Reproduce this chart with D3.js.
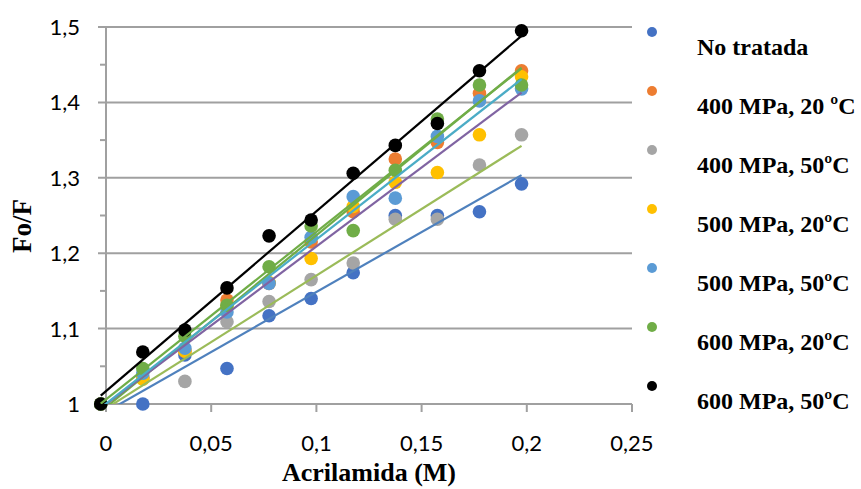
<!DOCTYPE html>
<html>
<head>
<meta charset="utf-8">
<script src="https://cdn.jsdelivr.net/npm/d3@7"></script>
<style>
body { margin: 0; background: #fff; }
svg { display: block; }
.tick-lbl { font-family: Lato, "Open Sans", sans-serif; font-size: 22px; fill: #000; }
.ttl { font-family: "Liberation Serif", "Times New Roman", serif; font-weight: bold; fill: #000; }
</style>
</head>
<body>
<svg id="svg1" width="861" height="489"></svg>
<script>

var width = 861,
    height = 489;

// acrilamida (M)
var conc = [-0.0025, 0.0175, 0.0375, 0.0575, 0.0775, 0.0975, 0.1175, 0.1375, 0.1575, 0.1775, 0.1975];

var series_names = ["No tratada", "400 MPa, 20 ºC", "400 MPa, 50ºC", "500 MPa, 20ºC", "500 MPa, 50ºC", "600 MPa, 20ºC", "600 MPa, 50ºC"];

var no_tratada   = [1.000, 1.000, 1.065, 1.047, 1.117, 1.140, 1.174, 1.250, 1.250, 1.255, 1.292];
var mpa400_20    = [1.000, 1.035, 1.070, 1.138, 1.160, 1.215, 1.255, 1.325, 1.347, 1.412, 1.442];
var mpa400_50    = [1.000, 1.035, 1.030, 1.109, 1.136, 1.165, 1.187, 1.245, 1.245, 1.317, 1.357];
var mpa500_20    = [1.000, 1.033, 1.070, 1.130, 1.161, 1.193, 1.262, 1.294, 1.307, 1.357, 1.434];
var mpa500_50    = [1.000, 1.041, 1.074, 1.122, 1.160, 1.221, 1.275, 1.273, 1.355, 1.402, 1.418];
var mpa600_20    = [1.000, 1.047, 1.090, 1.131, 1.182, 1.236, 1.230, 1.310, 1.378, 1.423, 1.423];
var mpa600_50    = [1.000, 1.069, 1.098, 1.154, 1.223, 1.244, 1.306, 1.343, 1.372, 1.442, 1.495];

var all_series = [no_tratada, mpa400_20, mpa400_50, mpa500_20, mpa500_50, mpa600_20, mpa600_50];

var marker_col = ["#4472C4", "#ED7D31", "#A5A5A5", "#FFC000", "#5B9BD5", "#70AD47", "#000000"];
var trend_col  = ["#4F81BD", "#70AD47", "#9BBB59", "#8064A2", "#4BACC6", "#70AD47", "#000000"];

var x_ticks = [0, 0.05, 0.1, 0.15, 0.2, 0.25];
var x_tick_lbl = ["0", "0,05", "0,1", "0,15", "0,2", "0,25"];
var y_ticks = [1, 1.1, 1.2, 1.3, 1.4, 1.5];
var y_tick_lbl = ["1", "1,1", "1,2", "1,3", "1,4", "1,5"];
var y_minor = [1.05, 1.15, 1.25, 1.35, 1.45];


var qSVG = d3.select("#svg1");

var x = d3.scaleLinear().domain([0, 0.25]).range([106, 632]);
var y = d3.scaleLinear().domain([1, 1.5]).range([404, 27]);

var grid_col = "#A0A0A0";

// gridlines
qSVG.selectAll(".grid")
    .data(y_ticks)
    .enter()
    .append("line")
    .attr("x1", x(0) - 8)
    .attr("x2", x(0.25))
    .attr("y1", function(d) { return y(d); })
    .attr("y2", function(d) { return y(d); })
    .attr("stroke", grid_col)
    .attr("stroke-width", 2);

// minor ticks on y
qSVG.selectAll(".ymin")
    .data(y_minor)
    .enter()
    .append("line")
    .attr("x1", x(0) - 6)
    .attr("x2", x(0))
    .attr("y1", function(d) { return y(d); })
    .attr("y2", function(d) { return y(d); })
    .attr("stroke", grid_col)
    .attr("stroke-width", 2);

// y axis line
qSVG.append("line")
    .attr("x1", x(0)).attr("x2", x(0))
    .attr("y1", y(1.5)).attr("y2", y(1) + 8)
    .attr("stroke", grid_col)
    .attr("stroke-width", 2);

// x ticks
qSVG.selectAll(".xt")
    .data(x_ticks)
    .enter()
    .append("line")
    .attr("x1", function(d) { return x(d); })
    .attr("x2", function(d) { return x(d); })
    .attr("y1", y(1))
    .attr("y2", y(1) + 8)
    .attr("stroke", grid_col)
    .attr("stroke-width", 2);

// tick labels
qSVG.selectAll(".ylbl")
    .data(y_ticks)
    .enter()
    .append("text")
    .attr("class", "tick-lbl")
    .attr("text-anchor", "end")
    .attr("x", 80)
    .attr("y", function(d) { return y(d) + 8; })
    .text(function(d, i) { return y_tick_lbl[i]; });

qSVG.selectAll(".xlbl")
    .data(x_ticks)
    .enter()
    .append("text")
    .attr("class", "tick-lbl")
    .attr("text-anchor", "middle")
    .attr("x", function(d) { return x(d); })
    .attr("y", 451)
    .text(function(d, i) { return x_tick_lbl[i]; });

// axis titles
qSVG.append("text")
    .attr("class", "ttl")
    .attr("font-size", 26)
    .attr("text-anchor", "middle")
    .attr("x", 369)
    .attr("y", 481)
    .text("Acrilamida (M)");

qSVG.append("text")
    .attr("class", "ttl")
    .attr("font-size", 27)
    .attr("text-anchor", "middle")
    .attr("transform", "translate(31,226) rotate(-90)")
    .text("Fo/F");

// markers
all_series.forEach(function(vals, s) {
    qSVG.append("g")
        .selectAll("circle")
        .data(vals)
        .enter()
        .append("circle")
        .attr("cx", function(d, i) { return x(conc[i]); })
        .attr("cy", function(d) { return y(d); })
        .attr("r", 6.8)
        .attr("fill", marker_col[s]);
});

// trendlines (least squares), clipped to plot area
qSVG.append("clipPath").attr("id", "clip")
    .append("rect")
    .attr("x", x(-0.01)).attr("y", y(1.5))
    .attr("width", x(0.25) - x(-0.01)).attr("height", y(1) - y(1.5));

function linfit(xs, ys) {
    var mx = d3.mean(xs), my = d3.mean(ys);
    var num = d3.sum(xs, function(v, i) { return (v - mx) * (ys[i] - my); });
    var den = d3.sum(xs, function(v) { return (v - mx) * (v - mx); });
    var b = num / den;
    return { b: b, a: my - b * mx };
}

var xlo = d3.min(conc), xhi = d3.max(conc);

all_series.forEach(function(vals, s) {
    var f = linfit(conc, vals);
    qSVG.append("line")
        .attr("clip-path", "url(#clip)")
        .attr("x1", x(xlo))
        .attr("y1", y(f.a + f.b * xlo))
        .attr("x2", x(xhi))
        .attr("y2", y(f.a + f.b * xhi))
        .attr("stroke", trend_col[s])
        .attr("stroke-width", 2.2);
});

// legend
var leg = qSVG.append("g");
leg.selectAll("circle")
    .data(series_names)
    .enter()
    .append("circle")
    .attr("cx", 652)
    .attr("cy", function(d, i) { return 32 + i * 59; })
    .attr("r", 5)
    .attr("fill", function(d, i) { return marker_col[i]; });

leg.selectAll("text")
    .data(series_names)
    .enter()
    .append("text")
    .attr("class", "ttl")
    .attr("font-size", 24)
    .attr("x", 697)
    .attr("y", function(d, i) { return 55 + i * 59; })
    .text(function(d) { return d; });

</script>
</body>
</html>
